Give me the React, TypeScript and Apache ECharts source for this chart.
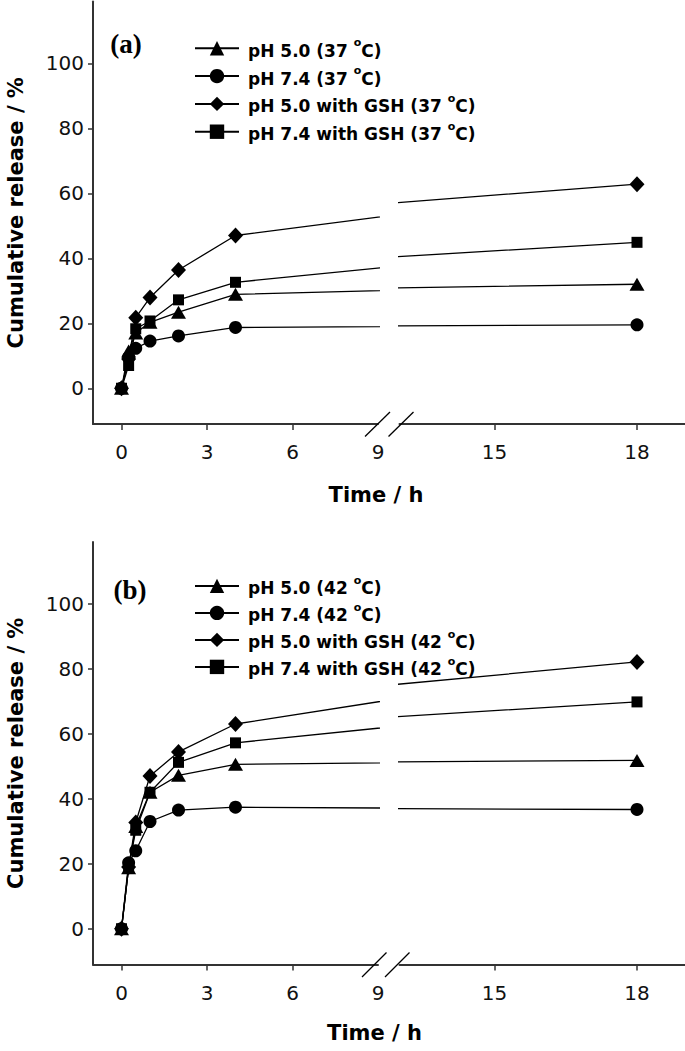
import React, { useEffect, useRef } from "react";
import * as echarts from "echarts";

// ---- data ----
const timeH = [0, 0.25, 0.5, 1, 2, 4, 18];

const namesA = [
  "pH 5.0 (37 °C)",
  "pH 7.4 (37 °C)",
  "pH 5.0 with GSH (37 °C)",
  "pH 7.4 with GSH (37 °C)",
];
const namesB = [
  "pH 5.0 (42 °C)",
  "pH 7.4 (42 °C)",
  "pH 5.0 with GSH (42 °C)",
  "pH 7.4 with GSH (42 °C)",
];

const releaseA_pH50 = [0, 11.5, 17.0, 20.3, 23.4, 28.9, 32.0];
const releaseA_pH74 = [0, 9.5, 12.3, 14.5, 16.1, 18.7, 19.5];
const releaseA_pH50GSH = [0, 9.0, 21.7, 27.9, 36.4, 47.0, 62.8];
const releaseA_pH74GSH = [0, 7.0, 18.3, 20.7, 27.2, 32.6, 44.9];

const releaseB_pH50 = [0, 18.8, 31.5, 42.0, 47.2, 50.6, 51.8];
const releaseB_pH74 = [0, 20.3, 24.0, 33.0, 36.5, 37.4, 36.7];
const releaseB_pH50GSH = [0, 19.0, 32.7, 47.0, 54.4, 63.0, 82.1];
const releaseB_pH74GSH = [0, 18.8, 30.3, 42.0, 51.2, 57.2, 69.8];

const yTicks = [0, 20, 40, 60, 80, 100];
const xTicksLeft = [0, 3, 6, 9];
const xTickMarksLeft = [0, 3, 6];
const xTicksRight = [15, 18];

// ---- styles ----
const FONT = "'DejaVu Sans', sans-serif";
const markers = [
  { symbol: "triangle", size: [15, 13] },
  { symbol: "circle", size: 13 },
  { symbol: "diamond", size: [15, 16] },
  { symbol: "rect", size: 11 },
];

const panels = [
  {
    names: namesA,
    values: [releaseA_pH50, releaseA_pH74, releaseA_pH50GSH, releaseA_pH74GSH],
    top: 1.5,
    legendTop: 32.3,
    legendGap: 5.8,
    tag: "(a)",
    tagX: 126,
    tagY: 44,
    titleX: 376,
    titleY: 495,
    breaks: [
      [365, 436.5, 390, 412],
      [388.5, 436.5, 413.5, 412],
    ],
  },
  {
    names: namesB,
    values: [releaseB_pH50, releaseB_pH74, releaseB_pH50GSH, releaseB_pH74GSH],
    top: 542,
    legendTop: 569.9,
    legendGap: 5,
    tag: "(b)",
    tagX: 130,
    tagY: 590,
    titleX: 374.5,
    titleY: 1033,
    breaks: [
      [362, 977, 386.5, 952.5],
      [385, 977, 409.5, 952.5],
    ],
  },
];

const axisLineStyle = { color: "#333", width: 2 };

function buildOption() {
  const grid: any[] = [];
  const xAxis: any[] = [];
  const yAxis: any[] = [];
  const series: any[] = [];
  const legend: any[] = [];
  const graphic: any[] = [];

  panels.forEach((p) => {
    const gl = grid.length;
    grid.push({ left: 93, top: p.top, width: 285, height: 422.5 });
    grid.push({ left: 399.5, top: p.top, width: 285, height: 422.5 });

    const labelStyle = { fontFamily: FONT, fontSize: 20, color: "#111" };
    xAxis.push({
      gridIndex: gl,
      type: "value",
      min: -1,
      max: 9,
      axisLine: { show: true, onZero: false, lineStyle: axisLineStyle },
      axisTick: { show: true, customValues: xTickMarksLeft, length: 6, lineStyle: { color: "#333", width: 1.5 } },
      axisLabel: { show: true, customValues: xTicksLeft, margin: 18, ...labelStyle },
      splitLine: { show: false },
    });
    xAxis.push({
      gridIndex: gl + 1,
      type: "value",
      min: 13,
      max: 19,
      axisLine: { show: true, onZero: false, lineStyle: axisLineStyle },
      axisTick: { show: true, customValues: xTicksRight, length: 6, lineStyle: { color: "#333", width: 1.5 } },
      axisLabel: { show: true, customValues: xTicksRight, margin: 18, ...labelStyle },
      splitLine: { show: false },
    });
    yAxis.push({
      gridIndex: gl,
      type: "value",
      min: -11,
      max: 119,
      axisLine: { show: true, onZero: false, lineStyle: axisLineStyle },
      axisTick: { show: true, customValues: yTicks, length: 5, lineStyle: { color: "#333", width: 1.5 } },
      axisLabel: { show: true, customValues: yTicks, margin: 9, ...labelStyle },
      splitLine: { show: false },
      name: "Cumulative release / %",
      nameLocation: "middle",
      nameRotate: 90,
      nameGap: 67,
      nameTextStyle: { fontFamily: FONT, fontSize: 21, fontWeight: "bold", color: "#000" },
    });
    yAxis.push({
      gridIndex: gl + 1,
      type: "value",
      min: -11,
      max: 119,
      show: false,
    });

    p.values.forEach((vals, si) => {
      const data = timeH.map((t, i) => [t, vals[i]]);
      [gl, gl + 1].forEach((idx) => {
        series.push({
          type: "line",
          name: p.names[si],
          xAxisIndex: idx,
          yAxisIndex: idx,
          data,
          symbol: markers[si].symbol,
          symbolSize: markers[si].size,
          clip: true,
          lineStyle: { color: "#000", width: 1.3 },
          itemStyle: { color: "#000" },
          emphasis: { disabled: true },
          z: 2 + si,
        });
      });
    });

    legend.push({
      data: p.names,
      orient: "vertical",
      left: 189,
      top: p.legendTop,
      itemWidth: 44,
      itemHeight: 18,
      itemGap: p.legendGap,
      selectedMode: false,
      formatter: (name: string) => {
        const [pre, post] = name.split("°");
        return `{m|${pre}}{sup|o}{m|${post}}`;
      },
      textStyle: {
        fontFamily: FONT,
        fontSize: 17,
        fontWeight: "bold",
        color: "#000",
        padding: [0, 0, 0, 4],
        rich: {
          m: { fontFamily: FONT, fontSize: 17, fontWeight: "bold", color: "#000", lineHeight: 22, verticalAlign: "bottom" },
          sup: { fontFamily: FONT, fontSize: 11, fontWeight: "bold", color: "#000", lineHeight: 11, verticalAlign: "top" },
        },
      },
    });

    graphic.push({
      type: "text",
      x: p.tagX,
      y: p.tagY,
      style: {
        text: p.tag,
        fill: "#000",
        font: "bold 27px 'Liberation Serif', 'Times New Roman', serif",
        align: "center",
        verticalAlign: "middle",
      },
    });
    graphic.push({
      type: "text",
      x: p.titleX,
      y: p.titleY,
      style: {
        text: "Time / h",
        fill: "#000",
        font: `bold 21px ${FONT}`,
        align: "center",
        verticalAlign: "middle",
      },
    });
    p.breaks.forEach((b) => {
      graphic.push({
        type: "line",
        shape: { x1: b[0], y1: b[1], x2: b[2], y2: b[3] },
        style: { stroke: "#000", lineWidth: 1.3 },
        z: 100,
      });
    });
  });

  return {
    animation: false,
    backgroundColor: "#fff",
    grid,
    xAxis,
    yAxis,
    series,
    legend,
    graphic,
  };
}

export default function App() {
  const ref = useRef<HTMLDivElement>(null);
  useEffect(() => {
    if (!ref.current) return;
    const chart = echarts.init(ref.current, undefined, { renderer: "svg" });
    chart.setOption(buildOption() as any);
    return () => chart.dispose();
  }, []);
  return (
    <div
      ref={ref}
      style={{ position: "absolute", left: 0, top: 0, width: 685, height: 1051, background: "#fff" }}
    />
  );
}
